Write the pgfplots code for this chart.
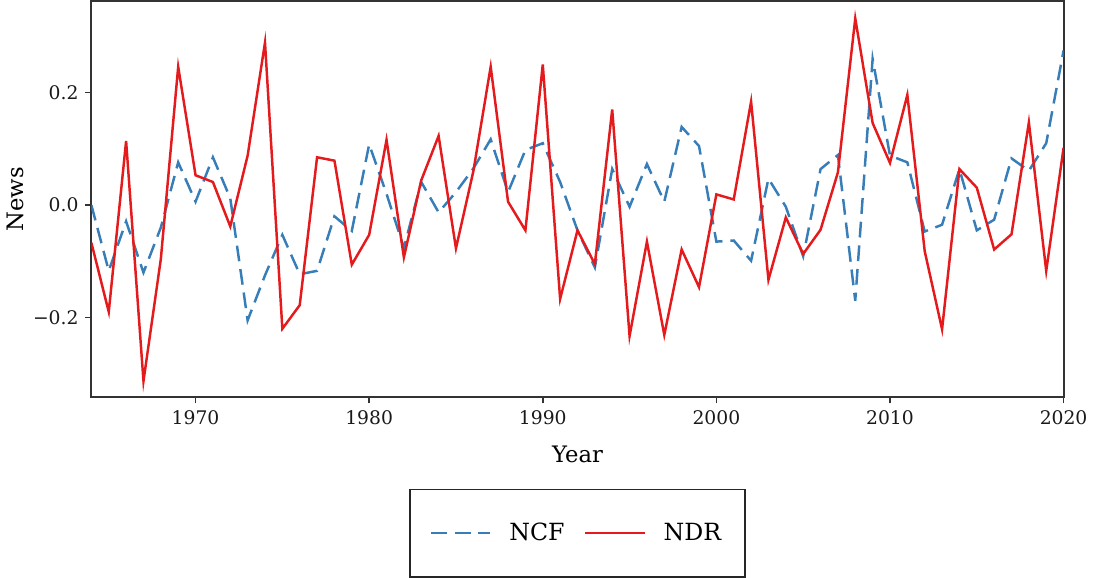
\documentclass[border=0pt]{standalone}
\usepackage{pgfplots}
\pgfplotsset{compat=1.18}
\usepackage{pgfplotstable}
\usepackage{fontspec}
\setmainfont{DejaVu Serif}
\definecolor{ncfblue}{HTML}{377EB8}
\definecolor{ndrred}{HTML}{E41A1C}

\pgfplotstableread{
year ncf ndr
1964 0.000 -0.067
1965 -0.117 -0.190
1966 -0.029 0.114
1967 -0.120 -0.313
1968 -0.040 -0.096
1969 0.076 0.246
1970 0.006 0.053
1971 0.085 0.041
1972 0.012 -0.038
1973 -0.205 0.088
1974 -0.125 0.289
1975 -0.053 -0.220
1976 -0.123 -0.178
1977 -0.117 0.085
1978 -0.020 0.079
1979 -0.046 -0.106
1980 0.108 -0.053
1981 0.020 0.116
1982 -0.076 -0.093
1983 0.041 0.044
1984 -0.013 0.123
1985 0.023 -0.077
1986 0.065 0.060
1987 0.117 0.246
1988 0.023 0.006
1989 0.098 -0.045
1990 0.110 0.250
1991 0.041 -0.167
1992 -0.045 -0.045
1993 -0.111 -0.105
1994 0.064 0.170
1995 -0.003 -0.233
1996 0.073 -0.065
1997 0.006 -0.231
1998 0.139 -0.079
1999 0.105 -0.146
2000 -0.065 0.019
2001 -0.063 0.010
2002 -0.099 0.184
2003 0.047 -0.133
2004 -0.003 -0.022
2005 -0.091 -0.087
2006 0.064 -0.044
2007 0.089 0.058
2008 -0.170 0.332
2009 0.260 0.146
2010 0.088 0.075
2011 0.076 0.196
2012 -0.047 -0.082
2013 -0.035 -0.221
2014 0.064 0.064
2015 -0.045 0.031
2016 -0.026 -0.079
2017 0.083 -0.052
2018 0.061 0.147
2019 0.110 -0.117
2020 0.275 0.102
}\newsdata

\begin{document}
\begin{tikzpicture}
\begin{axis}[
    scale only axis,
    width=493pt, height=201pt,
    xmin=1964, xmax=2020,
    ymin=-0.342, ymax=0.363,
    xtick={1970,1980,...,2020},
    ytick={-0.2,0,0.2},
    yticklabels={−0.2,0.0,0.2},
    x tick label style={/pgf/number format/.cd, set thousands separator={}, assume math mode=true},
    tick label style={font=\fontsize{9.5}{11}\selectfont, black!90},
    tick align=outside, tick pos=left,
    major tick length=3pt,
    every tick/.style={black!80, line width=0.8pt},
    axis line style={draw=black!80, line width=1pt},
    xlabel={Year}, ylabel={News},
    label style={font=\fontsize{11.5}{13}\selectfont},
    xlabel style={yshift=-4pt},
    ylabel style={yshift=-2pt},
    legend columns=2,
    legend cell align=left,
    legend style={at={(0.5,-0.23)}, anchor=north,
        draw=black!85, line width=0.8pt,
        inner xsep=10pt, inner ysep=15pt,
        font=\fontsize{12}{14}\selectfont,
        /tikz/every odd column/.append style={column sep=7pt},
        /tikz/every even column/.append style={column sep=8pt}},
    legend image code/.code={\draw[#1] (0pt,0pt) -- (30pt,0pt);},
]
\addplot[ncfblue, line width=1.25pt, dash pattern=on 8pt off 4pt] table[x=year, y=ncf] {\newsdata};
\addlegendentry{NCF}
\addplot[ndrred, line width=1.25pt] table[x=year, y=ndr] {\newsdata};
\addlegendentry{NDR}
\end{axis}
\end{tikzpicture}
\end{document}
